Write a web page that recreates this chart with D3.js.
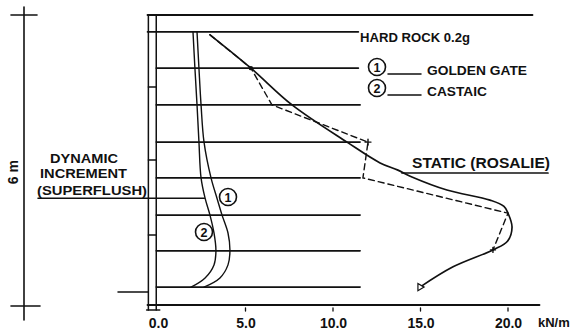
<!DOCTYPE html>
<html><head><meta charset="utf-8">
<script src="https://cdn.jsdelivr.net/npm/d3@7"></script>
<style>
body{margin:0;background:#fff}
svg{display:block}
text{font-family:"Liberation Sans",Arial,sans-serif;fill:#111}
</style>
</head><body>
<svg id="c" width="575" height="331"></svg>
<script>
// ---- data (load in kN/m, depth in m) ----
const xTickValues = [0, 5, 10, 15, 20];
const unitLabel = "kN/m";
const depthLabel = "6 m";
const gridDepths = [0.35, 1.10, 1.86, 2.63, 3.37, 4.14, 4.88, 5.63];

// static (Rosalie) solid curve
const staticDepth = [0.41, 1.10, 1.86, 2.63, 3.06, 3.21, 3.35, 3.62, 3.83, 3.96, 4.10, 4.39, 4.68, 4.86, 5.21, 5.63];
const staticLoad  = [2.97, 5.31, 7.66, 10.8, 12.69, 13.71, 14.51, 16.51, 18.97, 19.77, 20.0, 20.23, 19.97, 19.14, 16.86, 14.97];

// hard rock 0.2g dashed polyline
const rockDepth = [0.41, 1.10, 1.86, 2.63, 3.37, 4.10, 4.86];
const rockLoad  = [2.97, 5.31, 6.51, 12.0, 11.71, 20.0, 19.14];

// dynamic increment curves
const curveDepth = [0.35, 1.10, 1.86, 2.63, 3.37, 3.79, 4.14, 4.51, 4.88, 5.17, 5.44, 5.63];
const goldenGate = [2.23, 2.34, 2.46, 2.63, 3.03, 3.37, 3.66, 4.00, 4.11, 4.00, 3.54, 2.63];
const castaic    = [2.00, 2.11, 2.23, 2.34, 2.46, 2.69, 2.97, 3.20, 3.31, 3.20, 2.69, 1.89];

const legendNames = ["GOLDEN GATE", "CASTAIC"];
const labelHardRock = "HARD ROCK 0.2g";
const labelStatic = "STATIC (ROSALIE)";
const labelDynamic = ["DYNAMIC", "INCREMENT", "(SUPERFLUSH)"];

// ---- drawing ----
const svg = d3.select("#c");
const x = d3.scaleLinear().domain([0, 20]).range([158, 508]);
const y = d3.scaleLinear().domain([0, 6]).range([15, 305]);
const ink = "#111";

const g = svg.append("g").attr("stroke", ink).attr("fill", "none").attr("stroke-linecap", "round");

// left depth dimension line
g.append("line").attr("x1", 24).attr("x2", 24).attr("y1", 7).attr("y2", 320).attr("stroke-width", 1.6);
g.append("line").attr("x1", 11).attr("x2", 37).attr("y1", y(0)).attr("y2", y(0)).attr("stroke-width", 1.6);
g.append("line").attr("x1", 11).attr("x2", 40).attr("y1", y(6) + 1).attr("y2", y(6) + 1).attr("stroke-width", 1.6);
svg.append("text").attr("transform", `translate(18,${y(3.25)}) rotate(-90)`)
  .attr("text-anchor", "middle").attr("font-size", 14).attr("font-weight", "bold").text(depthLabel);

// top line
g.append("line").attr("x1", x(-0.6)).attr("x2", x(21.4)).attr("y1", y(0)).attr("y2", y(0)).attr("stroke-width", 1.8);

// wall
const wl = x(-0.55), wr = x(-0.1);
g.append("line").attr("x1", wl).attr("x2", wl).attr("y1", y(0)).attr("y2", y(6) + 5).attr("stroke-width", 1.5);
g.append("line").attr("x1", wr).attr("x2", wr).attr("y1", y(0)).attr("y2", y(6) + 5).attr("stroke-width", 1.5);
[1.49, 3.0, 4.55].forEach(d => {
  g.append("line").attr("x1", wl).attr("x2", wr).attr("y1", y(d)).attr("y2", y(d)).attr("stroke-width", 1.5);
});
g.append("line").attr("x1", x(-0.65)).attr("x2", x(0.1)).attr("y1", y(6) + 5).attr("y2", y(6) + 5).attr("stroke-width", 1.5);

// horizontal grid lines
g.selectAll(".grid").data(gridDepths).join("line")
  .attr("x1", (d, i) => i === 0 ? x(-0.6) : x(-0.1))
  .attr("x2", (d, i) => i < 2 ? x(11.45) : x(11.55))
  .attr("y1", d => y(d)).attr("y2", d => y(d)).attr("stroke-width", 1.6);

// short level line left of wall
g.append("line").attr("x1", 118).attr("x2", wl).attr("y1", y(5.73)).attr("y2", y(5.73)).attr("stroke-width", 1.5);

// x axis
g.append("line").attr("x1", x(-0.6)).attr("x2", x(21.8)).attr("y1", y(6)).attr("y2", y(6)).attr("stroke-width", 1.8);
const ax = svg.append("g").attr("transform", `translate(0,${y(6)})`)
  .call(d3.axisBottom(x).tickValues(xTickValues).tickFormat(d3.format(".1f")).tickSize(0).tickPadding(13));
ax.select(".domain").remove();
ax.selectAll("text").attr("font-size", 14).attr("font-weight", "bold").attr("font-family", "Liberation Sans, Arial, sans-serif").attr("fill", ink);
g.selectAll(".tk").data(xTickValues.slice(1)).join("line")
  .attr("x1", d => x(d)).attr("x2", d => x(d)).attr("y1", y(6) + 3).attr("y2", y(6) + 6).attr("stroke-width", 1.3);
svg.append("text").attr("x", 538).attr("y", 327).attr("font-size", 13).attr("font-weight", "bold").text(unitLabel);

// curves
const line = (depths, vals, curve) => d3.line().x(i => x(vals[i])).y(i => y(depths[i])).curve(curve)(d3.range(vals.length));
g.append("path").attr("d", line(curveDepth, goldenGate, d3.curveCatmullRom)).attr("stroke-width", 1.4);
g.append("path").attr("d", line(curveDepth, castaic, d3.curveCatmullRom)).attr("stroke-width", 1.4);
g.append("path").attr("d", line(staticDepth, staticLoad, d3.curveCatmullRom)).attr("stroke-width", 1.7);
g.append("path").attr("d", line(rockDepth, rockLoad, d3.curveLinear)).attr("stroke-width", 1.4).attr("stroke-dasharray", "6,4");

// markers
svg.append("circle").attr("cx", x(rockLoad[1])).attr("cy", y(rockDepth[1])).attr("r", 2.2).attr("fill", ink);
const plus = (cx, cy, s) => {
  g.append("line").attr("x1", cx - s).attr("x2", cx + s).attr("y1", cy).attr("y2", cy).attr("stroke-width", 1.4);
  g.append("line").attr("x1", cx).attr("x2", cx).attr("y1", cy - s).attr("y2", cy + s).attr("stroke-width", 1.4);
};
plus(x(rockLoad[3]), y(rockDepth[3]), 3);
plus(x(rockLoad[6]), y(rockDepth[6]), 2.5);
svg.append("path").attr("transform", `translate(${x(staticLoad[staticLoad.length-1])},${y(staticDepth[staticDepth.length-1])}) rotate(-30)`)
  .attr("d", d3.symbol(d3.symbolTriangle, 22)()).attr("fill", "#fff").attr("stroke", ink).attr("stroke-width", 1.2);

// labels
const lab = (tx, ty, t, len, size) => svg.append("text").attr("x", tx).attr("y", ty)
  .attr("font-size", size || 13.5).attr("font-weight", "bold")
  .attr("textLength", len).attr("lengthAdjust", "spacingAndGlyphs").text(t);

lab(360, 42, labelHardRock, 110);

const circled = (cx, cy, t) => {
  svg.append("circle").attr("cx", cx).attr("cy", cy).attr("r", 8.5).attr("fill", "none").attr("stroke", ink).attr("stroke-width", 1.6);
  svg.append("text").attr("x", cx).attr("y", cy + 4.5).attr("text-anchor", "middle").attr("font-size", 12.5).attr("font-weight", "bold").text(t);
};
[0, 1].forEach(i => {
  const cy = 67 + i * 21;
  circled(377, cy, String(i + 1));
  g.append("line").attr("x1", 388).attr("x2", 421).attr("y1", cy + 7).attr("y2", cy + 7).attr("stroke-width", 1.5);
  lab(427, cy + 8, legendNames[i], i === 0 ? 100 : 60);
});
circled(228, 197, "1");
circled(204, 232, "2");

lab(412, 168, labelStatic, 138, 14);
g.append("line").attr("x1", 402).attr("x2", 548).attr("y1", 173).attr("y2", 173).attr("stroke-width", 1.7);

const dyn = [[50, 163, 68], [40, 178, 87], [37, 195, 110]];
labelDynamic.forEach((t, i) => lab(dyn[i][0], dyn[i][1], t, dyn[i][2]));
g.append("line").attr("x1", 38).attr("x2", x(2.65)).attr("y1", y(3.79)).attr("y2", y(3.79)).attr("stroke-width", 1.5);
</script>
</body></html>
